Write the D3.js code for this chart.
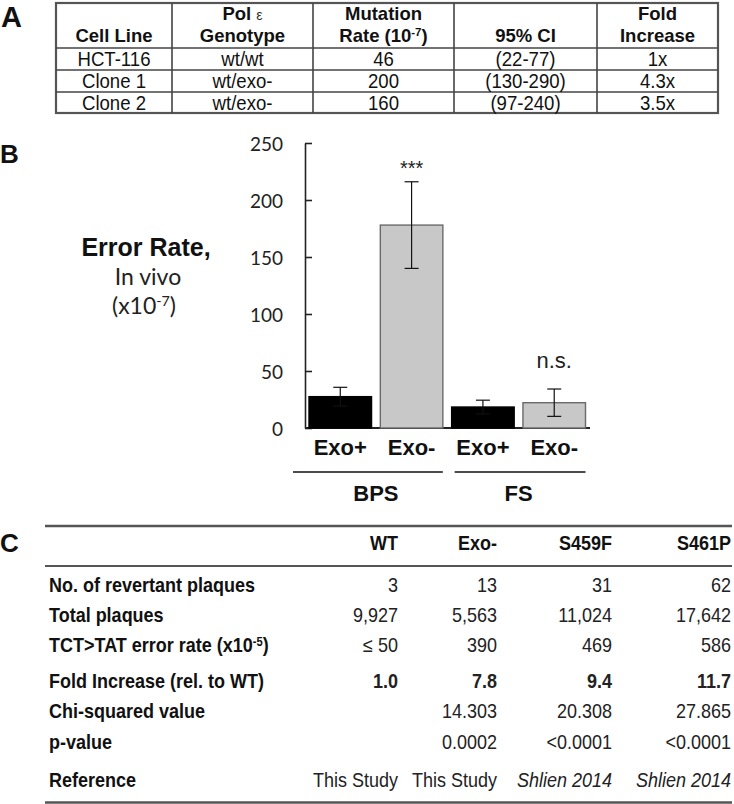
<!DOCTYPE html>
<html>
<head>
<meta charset="utf-8">
<script src="https://cdn.jsdelivr.net/npm/d3@7"></script>
<style>
  html, body { margin: 0; padding: 0; background: #fff; }
  svg { display: block; }
</style>
</head>
<body>
<script>
// ---------------- DATA ----------------
// Panel A
const tableAHeader = [["", "Cell Line"], ["Pol ε", "Genotype"], ["Mutation", "Rate (10^-7^)"], ["", "95% CI"], ["Fold", "Increase"]];
const cellLines = ["HCT-116", "Clone 1", "Clone 2"];
const genotypes = ["wt/wt", "wt/exo-", "wt/exo-"];
const mutationRates = [46, 200, 160];
const confidenceIntervals = ["(22-77)", "(130-290)", "(97-240)"];
const foldIncreases = ["1x", "4.3x", "3.5x"];

// Panel B
const groups = ["BPS", "FS"];
const conditions = ["Exo+", "Exo-"];
const errorRates = [27.5, 178, 18.4, 22.2];      // BPS Exo+, BPS Exo-, FS Exo+, FS Exo-
const errorBars = [8.2, 38, 6, 12];
const significance = ["", "***", "", "n.s."];
const yTicks = [0, 50, 100, 150, 200, 250];

// Panel C
const strains = ["WT", "Exo-", "S459F", "S461P"];
const rowLabels = ["No. of revertant plaques", "Total plaques", "TCT>TAT error rate (x10^-5^)", "Fold Increase (rel. to WT)", "Chi-squared value", "p-value", "Reference"];
const revertantPlaques = [3, 13, 31, 62];
const totalPlaques = [9927, 5563, 11024, 17642];
const tctErrorRate = ["≤ 50", "390", "469", "586"];
const foldRelWT = ["1.0", "7.8", "9.4", "11.7"];
const chiSquared = ["", "14.303", "20.308", "27.865"];
const pValues = ["", "0.0002", "<0.0001", "<0.0001"];
const references = ["This Study", "This Study", "Shlien 2014", "Shlien 2014"];

// ---------------- SETUP ----------------
const W = 734, H = 804;
const svg = d3.select("body").append("svg").attr("width", W).attr("height", H);
const ARIAL = "'Liberation Sans', Arial, Helvetica, sans-serif";
const CALIBRI = "Lato, 'Open Sans', sans-serif";

// text helper supporting ^sup^ markup and horizontal compression
function txt(parent, x, y, str, o = {}) {
  const t = parent.append("text")
    .attr("transform", `translate(${x},${y}) scale(${o.sx || 1},1)`)
    .attr("font-family", o.family || ARIAL)
    .attr("font-size", o.size || 18)
    .attr("font-weight", o.weight || "normal")
    .attr("font-style", o.style || "normal")
    .attr("text-anchor", o.anchor || "start")
    .attr("fill", o.fill || "#111");
  const parts = String(str).split("^");
  parts.forEach((p, i) => {
    if (!p) return;
    const ts = t.append("tspan").text(p);
    if (i % 2 === 1) {
      ts.attr("font-size", (o.size || 18) * 0.62).attr("baseline-shift", "super");
    }
  });
  return t;
}

// ---------------- PANEL A ----------------
const gA = svg.append("g");
txt(gA, 1, 27, "A", { size: 29, weight: "bold" });

const colEdges = [56, 172, 313, 454, 597, 718];
const rowEdges = [3, 48, 70, 92, 113];
const colCenters = d3.range(5).map(i => (colEdges[i] + colEdges[i + 1]) / 2);

// grid
gA.append("rect").attr("x", colEdges[0]).attr("y", rowEdges[0])
  .attr("width", colEdges[5] - colEdges[0]).attr("height", rowEdges[4] - rowEdges[0])
  .attr("fill", "none").attr("stroke", "#555").attr("stroke-width", 2.2);
colEdges.slice(1, 5).forEach(x => gA.append("line").attr("x1", x).attr("x2", x)
  .attr("y1", rowEdges[0]).attr("y2", rowEdges[4]).attr("stroke", "#444").attr("stroke-width", 1.6));
rowEdges.slice(1, 4).forEach(y => gA.append("line").attr("x1", colEdges[0]).attr("x2", colEdges[5])
  .attr("y1", y).attr("y2", y).attr("stroke", "#444").attr("stroke-width", 1.6));

// header
tableAHeader.forEach((lines, i) => {
  if (lines[0]) {
    if (lines[0] === "Pol ε") {
      const t = gA.append("text").attr("transform", `translate(${colCenters[i]},20)`)
        .attr("font-family", ARIAL).attr("font-size", 18.5).attr("text-anchor", "middle").attr("fill", "#111");
      t.append("tspan").attr("font-weight", "bold").text("Pol ");
      t.append("tspan").attr("font-size", 14).attr("fill", "#333").text("ε");
    } else {
      txt(gA, colCenters[i], 20, lines[0], { size: 18.5, weight: "bold", anchor: "middle" });
    }
  }
  txt(gA, colCenters[i], 42, lines[1], { size: 18.5, weight: "bold", anchor: "middle" });
});
// data rows
const rowsA = cellLines.map((c, i) => [c, genotypes[i], mutationRates[i], confidenceIntervals[i], foldIncreases[i]]);
rowsA.forEach((r, ri) => {
  const yb = rowEdges[ri + 1] + (rowEdges[ri + 2] - rowEdges[ri + 1]) / 2 + 7;
  r.forEach((v, ci) => txt(gA, colCenters[ci], yb, v, { size: 20, anchor: "middle", sx: 0.93 }));
});

// ---------------- PANEL B ----------------
const gB = svg.append("g");
txt(gB, 0, 163, "B", { size: 26, weight: "bold" });

const barKeys = groups.flatMap(g => conditions.map(c => g + " " + c));
const x = d3.scaleBand().domain(barKeys).range([305, 589.5]).paddingInner(0.123).paddingOuter(0.056);
const y = d3.scaleLinear().domain([0, 250]).range([428, 143]);

const yAxis = d3.axisLeft(y).tickValues(yTicks).tickSizeInner(-7).tickSizeOuter(0).tickPadding(22);
const ya = gB.append("g").attr("transform", "translate(305,0)").call(yAxis);
ya.select(".domain").attr("stroke", "#222").attr("stroke-width", 1.6);
ya.selectAll(".tick line").attr("stroke", "#222").attr("stroke-width", 1.6);
ya.selectAll(".tick text").attr("font-family", CALIBRI).attr("font-size", 19).attr("fill", "#222").attr("dy", "0.4em");

// baseline
gB.append("line").attr("x1", 305).attr("x2", 590).attr("y1", y(0)).attr("y2", y(0))
  .attr("stroke", "#222").attr("stroke-width", 1.8);

// bars
barKeys.forEach((k, i) => {
  const isPlus = k.endsWith("+");
  gB.append("rect")
    .attr("x", x(k)).attr("y", y(errorRates[i]))
    .attr("width", x.bandwidth()).attr("height", y(0) - y(errorRates[i]))
    .attr("fill", isPlus ? "#000" : "#c8c8c8")
    .attr("stroke", isPlus ? "#000" : "#6a6a6a").attr("stroke-width", 1.4);
});
// error bars
barKeys.forEach((k, i) => {
  const cx = x(k) + x.bandwidth() / 2;
  const hi = y(errorRates[i] + errorBars[i]), lo = y(errorRates[i] - errorBars[i]);
  const eb = gB.append("g").attr("stroke", "#111").attr("stroke-width", 1.2);
  eb.append("line").attr("x1", cx).attr("x2", cx).attr("y1", hi).attr("y2", lo);
  eb.append("line").attr("x1", cx - 7).attr("x2", cx + 7).attr("y1", hi).attr("y2", hi);
  eb.append("line").attr("x1", cx - 7).attr("x2", cx + 7).attr("y1", lo).attr("y2", lo);
});
// significance
barKeys.forEach((k, i) => {
  if (!significance[i]) return;
  const cx = x(k) + x.bandwidth() / 2;
  const top = y(errorRates[i] + errorBars[i]);
  const stars = significance[i] === "***";
  txt(gB, cx, stars ? top - 7 : top - 21, significance[i], { size: stars ? 20 : 22, anchor: "middle", fill: "#222" });
});
// category labels
barKeys.forEach((k, i) => {
  txt(gB, x(k) + x.bandwidth() / 2, 455, conditions[i % 2], { size: 22, weight: "bold", anchor: "middle" });
});
// group lines + labels
const groupLineOffsets = [[-16, 0], [3, 0]];
groups.forEach((g, gi) => {
  const k0 = g + " " + conditions[0], k1 = g + " " + conditions[1];
  const x0 = x(k0) + groupLineOffsets[gi][0], x1 = x(k1) + x.bandwidth() + groupLineOffsets[gi][1];
  gB.append("line").attr("x1", x0).attr("x2", x1).attr("y1", 472).attr("y2", 472)
    .attr("stroke", "#111").attr("stroke-width", 1.6);
  txt(gB, (x(k0) + x(k1) + x.bandwidth()) / 2, 501, g, { size: 22, weight: "bold", anchor: "middle" });
});
// y label
txt(gB, 146, 256, "Error Rate,", { size: 25, weight: "bold", anchor: "middle" });
txt(gB, 148, 285, "In vivo", { size: 23, anchor: "middle", family: CALIBRI, fill: "#222" });
txt(gB, 144, 314, "(x10^-7^)", { size: 23, anchor: "middle", family: CALIBRI, fill: "#222" });

// ---------------- PANEL C ----------------
const gC = svg.append("g");
txt(gC, 0, 552, "C", { size: 26, weight: "bold" });

gC.append("line").attr("x1", 45).attr("x2", 732).attr("y1", 526).attr("y2", 526).attr("stroke", "#555").attr("stroke-width", 2.4);
gC.append("line").attr("x1", 45).attr("x2", 732).attr("y1", 566).attr("y2", 566).attr("stroke", "#555").attr("stroke-width", 2);
gC.append("line").attr("x1", 45).attr("x2", 732).attr("y1", 802.5).attr("y2", 802.5).attr("stroke", "#555").attr("stroke-width", 2.6);

const colRight = [398, 497, 612, 731];
strains.forEach((s, i) => txt(gC, colRight[i], 550, s, { size: 20, weight: "bold", anchor: "end", sx: 0.9 }));

const rowBaselines = [592, 622, 652, 688, 718, 749, 787];
const fmt = d3.format(",");
const rowsC = [
  revertantPlaques.map(String),
  totalPlaques.map(fmt),
  tctErrorRate,
  foldRelWT,
  chiSquared,
  pValues,
  references
];
rowLabels.forEach((lab, ri) => {
  txt(gC, 49, rowBaselines[ri], lab, { size: 20, weight: "bold", sx: 0.9 });
  rowsC[ri].forEach((v, ci) => {
    if (!v) return;
    const italic = ri === 6 && v.startsWith("Shlien");
    txt(gC, colRight[ci], rowBaselines[ri], v, {
      size: 20, anchor: "end", sx: 0.9,
      weight: ri === 3 ? "bold" : "normal",
      style: italic ? "italic" : "normal",
      fill: "#222"
    });
  });
});
</script>
</body>
</html>
